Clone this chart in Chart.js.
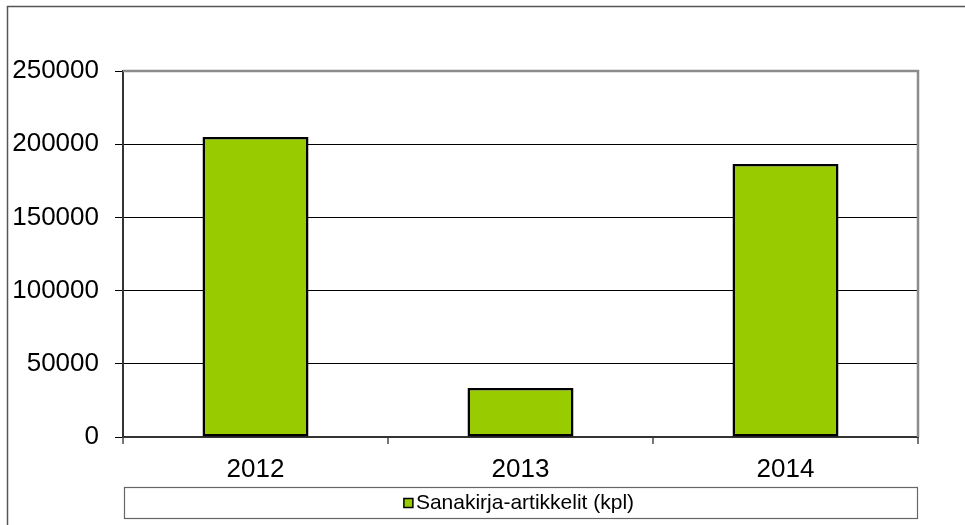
<!DOCTYPE html>
<html>
<head>
<meta charset="utf-8">
<script src="https://cdn.jsdelivr.net/npm/chart.js@4"></script>
<style>
  html, body { margin: 0; padding: 0; background: #fff; }
  #wrap { width: 965px; height: 525px; position: relative; }
</style>
</head>
<body>
<div id="wrap"><canvas id="myChart" width="965" height="525"></canvas></div>
<script>
// chart data
const years = ['2012', '2013', '2014'];
const articles = [205000, 33500, 186500];
const seriesName = 'Sanakirja-artikkelit (kpl)';
const yTicks = [0, 50000, 100000, 150000, 200000, 250000];

const FONT = 'Liberation Sans, Arial, sans-serif';
const GREEN = '#99cc00';

// frame, plot border and legend box
const framePlugin = {
  id: 'frame',
  afterDraw(chart) {
    const ctx = chart.ctx;
    const a = chart.chartArea;
    ctx.save();
    // outer border
    ctx.strokeStyle = '#555';
    ctx.lineWidth = 1.5;
    ctx.beginPath();
    ctx.moveTo(7.5, 525);
    ctx.lineTo(7.5, 6.5);
    ctx.lineTo(965, 6.5);
    ctx.stroke();
    // grey plot border top/right
    ctx.strokeStyle = '#8c8c8c';
    ctx.lineWidth = 2.5;
    ctx.beginPath();
    ctx.moveTo(a.left, a.top);
    ctx.lineTo(a.right, a.top);
    ctx.lineTo(a.right, a.bottom);
    ctx.stroke();
    // legend box
    ctx.strokeStyle = '#666';
    ctx.lineWidth = 1.2;
    ctx.strokeRect(124.5, 487.5, 793, 31);
    const ds = chart.data.datasets[0];
    ctx.font = '21px ' + FONT;
    const tw = ctx.measureText(ds.label).width;
    const total = 9 + 4 + tw;
    const x0 = (124 + 917) / 2 - total / 2 - 1;
    const cy = 503;
    ctx.fillStyle = ds.backgroundColor;
    ctx.fillRect(x0, cy - 4.5, 9, 9);
    ctx.strokeStyle = '#000';
    ctx.lineWidth = 1.5;
    ctx.strokeRect(x0, cy - 4.5, 9, 9);
    ctx.fillStyle = '#000';
    ctx.textBaseline = 'middle';
    ctx.textAlign = 'left';
    ctx.fillText(ds.label, x0 + 12, cy);
    ctx.restore();
  }
};

new Chart(document.getElementById('myChart').getContext('2d'), {
  type: 'bar',
  data: {
    labels: years,
    datasets: [{
      label: seriesName,
      data: articles,
      backgroundColor: GREEN,
      borderColor: '#000',
      borderWidth: 2.5,
      borderSkipped: false,
      barPercentage: 0.4,
      categoryPercentage: 1.0
    }]
  },
  options: {
    responsive: false,
    animation: false,
    devicePixelRatio: 1,
    layout: { padding: { left: 0, top: 71, right: 47, bottom: 0 } },
    plugins: {
      legend: { display: false },
      tooltip: { enabled: false }
    },
    scales: {
      y: {
        min: 0,
        max: 250000,
        afterBuildTicks(axis) { axis.ticks = yTicks.map(v => ({ value: v })); },
        afterFit(axis) { axis.width = 123; },
        border: { display: true, color: '#333', width: 2 },
        grid: { color: '#000', lineWidth: 1, tickLength: 8, drawTicks: true },
        ticks: {
          color: '#000',
          padding: 16,
          font: { family: FONT, size: 26 },
          callback: v => String(v)
        }
      },
      x: {
        afterFit(axis) { axis.height = 525 - 437; },
        border: { display: true, color: '#333', width: 2 },
        grid: { offset: true, drawOnChartArea: false, color: '#777', lineWidth: 2, tickLength: 7 },
        ticks: {
          color: '#000',
          padding: 10,
          font: { family: FONT, size: 26 }
        }
      }
    }
  },
  plugins: [framePlugin]
});
</script>
</body>
</html>
